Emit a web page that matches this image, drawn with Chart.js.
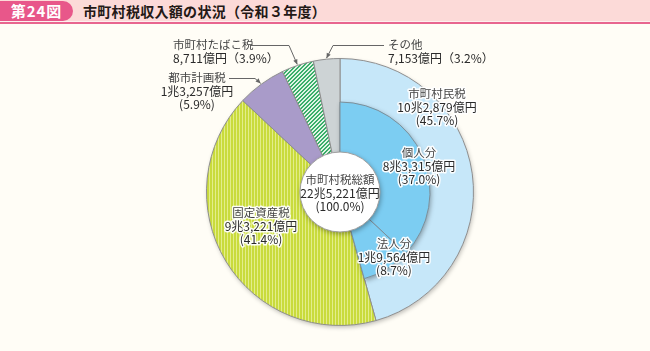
<!DOCTYPE html>
<html lang="ja">
<head>
<meta charset="utf-8">
<script src="https://cdn.jsdelivr.net/npm/chart.js@4.4.1/dist/chart.umd.min.js"></script>
<style>
  body { margin: 0; background: #fffdf6; font-family: "Noto Sans CJK JP", sans-serif; }
  #wrap { position: relative; width: 650px; height: 351px; overflow: hidden; background: #fffdf6; }
  #band { position: absolute; left: 0; top: 0; width: 650px; height: 21px; background: #fcdad8; border-bottom: 1px solid #fdf0ee; }
  #rule { position: absolute; left: 0; top: 22px; width: 650px; height: 2px; background: #e8668f; }
  #tab { position: absolute; left: 0; top: 1px; width: 73px; height: 20px; background: #e8578a; border-radius: 0 11px 11px 0;
         color: #fff; font-weight: bold; font-size: 15px; line-height: 20px; text-align: center; letter-spacing: 1px; }
  #title { position: absolute; left: 83px; top: 0; height: 22px; line-height: 22px; font-size: 14px; font-weight: bold;
           color: #231815; letter-spacing: 0.3px; }
  canvas { position: absolute; left: 0; top: 0; }
</style>
</head>
<body>
<div id="wrap">
  <div id="band"></div>
  <div id="rule"></div>
  <div id="tab">第24図</div>
  <div id="title">市町村税収入額の状況（令和３年度）</div>
  <canvas id="outer" width="650" height="351"></canvas>
  <canvas id="inner" width="650" height="351"></canvas>
</div>
<script>
// 市町村税の内訳（令和3年度）
const categories = ['市町村民税', '固定資産税', '都市計画税', '市町村たばこ税', 'その他'];
const shares = [45.7, 41.4, 5.9, 3.9, 3.2];
const amounts = ['10兆2,879億円', '9兆3,221億円', '1兆3,257億円', '8,711億円', '7,153億円'];

// 市町村民税の内訳
const subCategories = ['個人分', '法人分'];
const subShares = [37.0, 8.7];
const subAmounts = ['8兆3,315億円', '1兆9,564億円'];

const totalName = '市町村税総額';
const totalAmount = '22兆5,221億円';
const totalShare = 100.0;

function stripes(base, line) {
    var c = document.createElement('canvas');
    c.width = 3; c.height = 1;
    var x = c.getContext('2d');
    x.fillStyle = base; x.fillRect(0, 0, 3, 1);
    x.fillStyle = line; x.fillRect(2, 0, 1, 1);
    return x.createPattern(c, 'repeat');
}

function hatch(base, line) {
    var c = document.createElement('canvas');
    c.width = 4; c.height = 4;
    var x = c.getContext('2d');
    x.fillStyle = base; x.fillRect(0, 0, 4, 4);
    x.fillStyle = line;
    for (var i = 0; i < 4; i++)
        for (var j = 0; j < 4; j++)
            if ((i + j) % 4 < 2) x.fillRect(i, j, 1, 1);
    return x.createPattern(c, 'repeat');
}

var outerColors = [
    '#c6e7f9',
    stripes('#c9db3c', '#e3ed8a'),
    '#a99bc9',
    hatch('#e0f4e4', '#3aae6a'),
    '#cdd3d5'
];
var subColor = '#7ccdf2';

var pad = { left: 206, right: 176, top: 58, bottom: 25 };
var nameFont = '11.5px "Noto Sans CJK JP", sans-serif';
var valueFont = '12px "Noto Sans CJK JP", sans-serif';
var pct = v => '(' + v.toFixed(1) + '%)';
var pctWide = v => '（' + v.toFixed(1) + '%）';

// labels: text comes from the arrays above, only the placement lives here
var labelPlaces = [
    { lines: [categories[0], amounts[0], pct(shares[0])], x: 437, y: 94, align: 'center', halo: true },
    { lines: [categories[1], amounts[1], pct(shares[1])], x: 261, y: 213, align: 'center', halo: true },
    { lines: [categories[2], amounts[2], pct(shares[2])], x: 197, y: 78, align: 'center', halo: false },
    { lines: [categories[3], amounts[3] + pctWide(shares[3])], x: 173, y: 45, align: 'left', halo: false },
    { lines: [categories[4], amounts[4] + pctWide(shares[4])], x: 388, y: 45, align: 'left', halo: false },
    { lines: [subCategories[0], subAmounts[0], pct(subShares[0])], x: 419, y: 153, align: 'center', halo: true },
    { lines: [subCategories[1], subAmounts[1], pct(subShares[1])], x: 394, y: 244, align: 'center', halo: true },
    { lines: [totalName, totalAmount, pct(totalShare)], x: 340, y: 180, align: 'center', halo: false }
];

var leaders = [
    { idx: 3, from: [251, 45], elbow: [289, 45] },
    { idx: 4, from: [384, 45], elbow: [333, 45] },
    { idx: 2, from: [229, 78], elbow: [255, 78] }
];

var outerShadow = {
    id: 'outerShadow',
    beforeDatasetsDraw(chart) {
        var a = chart.getDatasetMeta(0).data[0];
        var ctx = chart.ctx;
        ctx.save();
        ctx.shadowColor = 'rgba(0,0,0,0.25)';
        ctx.shadowBlur = 4;
        ctx.shadowOffsetX = 1;
        ctx.shadowOffsetY = 2;
        ctx.fillStyle = '#ffffff';
        ctx.beginPath();
        ctx.arc(a.x, a.y, a.outerRadius, 0, Math.PI * 2);
        ctx.fill();
        ctx.restore();
    }
};

var chartA = new Chart(document.getElementById('outer'), {
    type: 'doughnut',
    data: {
        labels: categories,
        datasets: [{
            data: shares,
            backgroundColor: outerColors,
            borderColor: '#8e8e8e',
            borderWidth: 1
        }]
    },
    options: {
        responsive: false,
        animation: false,
        events: [],
        cutout: 30,
        layout: { padding: pad },
        plugins: { legend: { display: false }, tooltip: { enabled: false } }
    },
    plugins: [outerShadow]
});

var total = shares.reduce((s, v) => s + v, 0);
var subTotal = subShares.reduce((s, v) => s + v, 0);

function drawLines(ctx, p) {
    ctx.textAlign = p.align;
    ctx.textBaseline = 'middle';
    p.lines.forEach(function (t, i) {
        var y = p.y + i * 13;
        ctx.font = i === 0 ? nameFont : valueFont;
        if (p.halo) {
            ctx.strokeStyle = 'rgba(255,255,255,0.95)';
            ctx.lineWidth = 3;
            ctx.lineJoin = 'round';
            ctx.strokeText(t, p.x, y);
        }
        ctx.fillStyle = i === 0 ? '#444444' : '#2a2a2a';
        ctx.fillText(t, p.x, y);
    });
}

var innerDecor = {
    id: 'innerDecor',
    beforeDatasetsDraw(chart) {
        var d = chart.getDatasetMeta(0).data;
        var ctx = chart.ctx;
        ctx.save();
        ctx.shadowColor = 'rgba(0,0,0,0.35)';
        ctx.shadowBlur = 5;
        ctx.shadowOffsetX = 1;
        ctx.shadowOffsetY = 2;
        ctx.fillStyle = subColor;
        ctx.beginPath();
        ctx.arc(d[0].x, d[0].y, d[0].outerRadius, d[0].startAngle, d[subShares.length - 1].endAngle);
        ctx.arc(d[0].x, d[0].y, d[0].innerRadius, d[subShares.length - 1].endAngle, d[0].startAngle, true);
        ctx.closePath();
        ctx.fill();
        ctx.restore();
    },
    afterDraw(chart) {
        var ctx = chart.ctx;
        var c = chart.getDatasetMeta(0).data[0];

        // centre disc
        ctx.save();
        ctx.shadowColor = 'rgba(0,0,0,0.35)';
        ctx.shadowBlur = 5;
        ctx.shadowOffsetX = 1;
        ctx.shadowOffsetY = 2;
        ctx.fillStyle = '#ffffff';
        ctx.beginPath();
        ctx.arc(c.x, c.y, 40, 0, Math.PI * 2);
        ctx.fill();
        ctx.restore();
        ctx.save();
        ctx.strokeStyle = '#a0a0a0';
        ctx.lineWidth = 1;
        ctx.beginPath();
        ctx.arc(c.x, c.y, 40, 0, Math.PI * 2);
        ctx.stroke();
        ctx.restore();

        // leader lines to the thin slices
        var outer = chartA.getDatasetMeta(0).data;
        ctx.save();
        ctx.strokeStyle = '#666666';
        ctx.fillStyle = '#666666';
        ctx.lineWidth = 1;
        leaders.forEach(function (l) {
            var a = outer[l.idx];
            var mid = (a.startAngle + a.endAngle) / 2;
            var ex = a.x + Math.cos(mid) * (a.outerRadius + 1);
            var ey = a.y + Math.sin(mid) * (a.outerRadius + 1);
            ctx.beginPath();
            ctx.moveTo(l.from[0], l.from[1] + 0.5);
            ctx.lineTo(l.elbow[0], l.elbow[1] + 0.5);
            ctx.lineTo(ex, ey);
            ctx.stroke();
            var ang = Math.atan2(ey - l.elbow[1], ex - l.elbow[0]);
            ctx.beginPath();
            ctx.moveTo(ex, ey);
            ctx.lineTo(ex - 5 * Math.cos(ang) + 2.2 * Math.sin(ang), ey - 5 * Math.sin(ang) - 2.2 * Math.cos(ang));
            ctx.lineTo(ex - 5 * Math.cos(ang) - 2.2 * Math.sin(ang), ey - 5 * Math.sin(ang) + 2.2 * Math.cos(ang));
            ctx.closePath();
            ctx.fill();
        });
        ctx.restore();

        ctx.save();
        labelPlaces.forEach(p => drawLines(ctx, p));
        ctx.restore();
    }
};

var chartB = new Chart(document.getElementById('inner'), {
    type: 'doughnut',
    data: {
        labels: subCategories.concat(['']),
        datasets: [{
            data: subShares.concat([total - subTotal]),
            backgroundColor: [subColor, subColor, 'rgba(0,0,0,0)'],
            borderColor: ['#7d8e98', '#7d8e98', 'rgba(0,0,0,0)'],
            borderWidth: [1, 1, 0]
        }]
    },
    options: {
        responsive: false,
        animation: false,
        events: [],
        radius: 90,
        cutout: 30,
        layout: { padding: pad },
        plugins: { legend: { display: false }, tooltip: { enabled: false } }
    },
    plugins: [innerDecor]
});
</script>
</body>
</html>
